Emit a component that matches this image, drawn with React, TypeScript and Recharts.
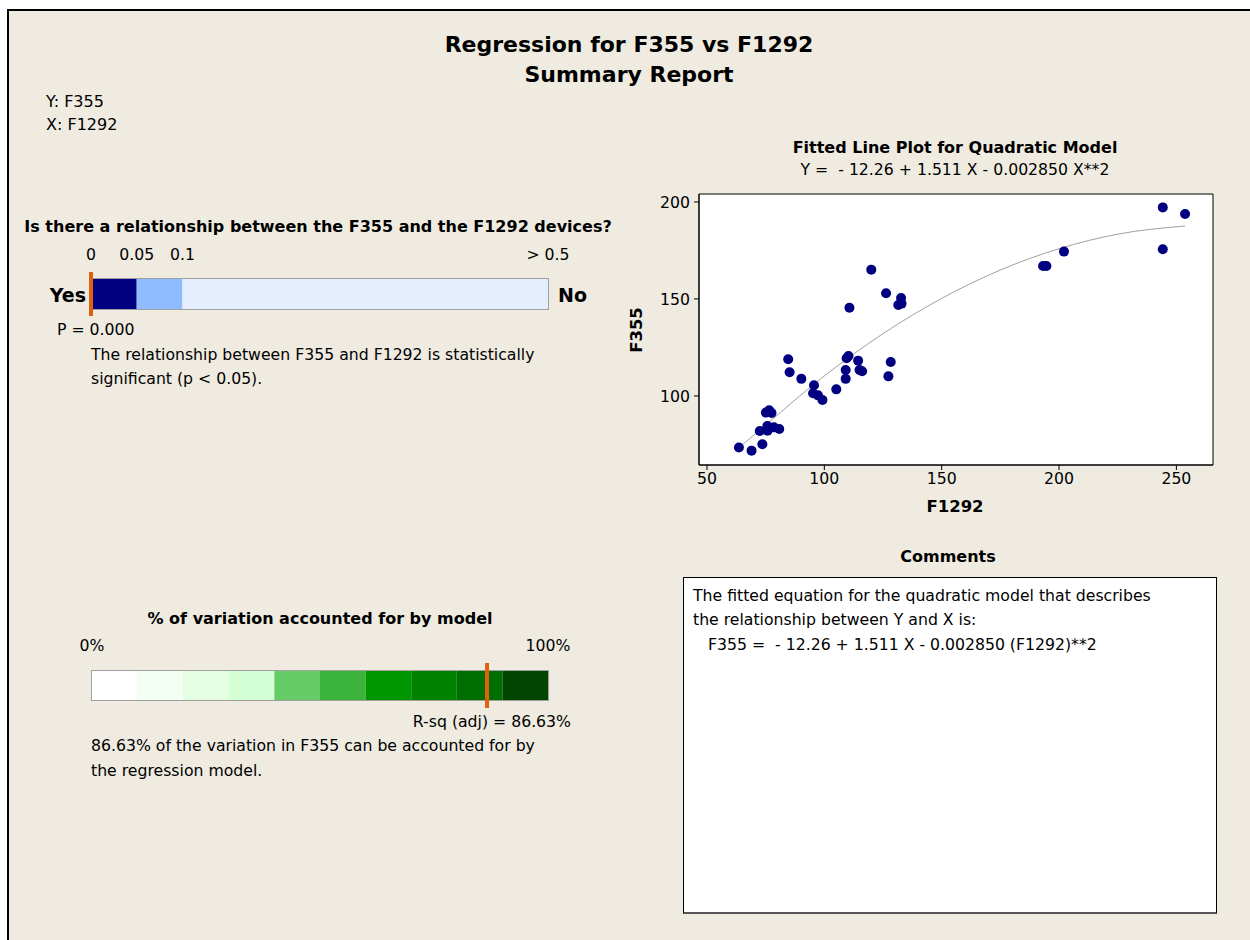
import React from 'react';
import {
  ComposedChart, Scatter, Line, XAxis, YAxis, ReferenceArea, ReferenceLine, BarChart, Bar,
} from 'recharts';

const F1292 = [
  63.6, 69.0, 73.6, 72.5, 75.7, 75.8, 78.5, 80.8, 75.1, 76.5, 77.5, 84.6, 85.2, 90.2, 95.6, 95.2, 97.3, 99.2, 105.1, 109.1,
  109.1, 109.5, 110.3, 110.7, 114.4, 115.0, 116.1, 120.0, 126.3, 127.3, 128.3, 132.7, 131.5, 132.9, 193.2, 194.6, 202.1, 244.2, 244.2, 253.7,
];
const F355 = [
  73.4, 71.8, 75.1, 81.9, 84.5, 82.1, 83.8, 83.0, 91.4, 92.6, 91.2, 118.9, 112.2, 108.8, 105.5, 101.4, 100.3, 97.9, 103.4, 108.8,
  113.4, 119.4, 120.6, 145.5, 118.2, 113.4, 112.7, 165.1, 152.9, 110.1, 117.5, 150.5, 146.9, 147.6, 167.0, 167.0, 174.4, 197.2, 175.6, 193.8,
];

// fitted quadratic line
const FIT_X = [63.6, 75, 100, 125, 150, 175, 200, 225, 253.7];
const FIT_Y = [73.3, 85.0, 110.3, 132.1, 150.3, 164.9, 175.9, 183.4, 187.6];

const X_TICKS = [50, 100, 150, 200, 250];
const Y_TICKS = [100, 150, 200];

// p-value bar: 0-0.05, 0.05-0.1, 0.1-0.5 (nonlinear units)
const P_SEGMENTS = [1, 1, 8];
const P_COLORS = ['#000080', '#8ebcff', '#e4eeff'];
const P_TICK_POS = [0, 1, 2, 10];
const P_TICK_LABELS = ['0', '0.05', '0.1', '> 0.5'];
const P_VALUE_POS = 0;

// R-sq bar: ten 10% bands
const R_SEGMENTS = [10, 10, 10, 10, 10, 10, 10, 10, 10, 10];
const R_COLORS = ['#ffffff', '#f4fff4', '#e4ffe4', '#d4ffd4', '#66cc66', '#3cb43c', '#009600', '#008200', '#006e00', '#004600'];
const R_TICKS = [0, 100];
const R_TICK_LABELS = ['0%', '100%'];
const RSQ_ADJ = 86.63;

const FONT = '"DejaVu Sans", Verdana, sans-serif';
const ORANGE = '#e0600c';
const BODY = 15.7;
const HEAD = 16;

const points = F1292.map((x, i) => ({ x, y: F355[i] }));
const fit = FIT_X.map((x, i) => ({ x, y: FIT_Y[i] }));
const pRow = [Object.fromEntries(P_SEGMENTS.map((v, i) => [`s${i}`, v]).concat([['name', 'p']]))];
const rRow = [Object.fromEntries(R_SEGMENTS.map((v, i) => [`s${i}`, v]).concat([['name', 'r']]))];

function T({ x, y, children, size = BODY, bold = false, anchor = 'start' }: any) {
  const shift = anchor === 'middle' ? '-50%' : anchor === 'end' ? '-100%' : '0';
  return (
    <div
      style={{
        position: 'absolute', left: x, top: y - 12, height: 24, lineHeight: '24px',
        transform: `translateX(${shift})`, whiteSpace: 'pre', fontSize: size,
        fontWeight: bold ? 'bold' : 'normal', color: '#000', fontFamily: FONT,
      }}
    >
      {children}
    </div>
  );
}

const tickStyle = { fill: '#000', fontSize: BODY, fontFamily: FONT };

export default function App() {
  return (
    <div style={{ position: 'absolute', left: 0, top: 0, width: 1250, height: 940, background: '#fff', overflow: 'hidden', fontFamily: FONT }}>
      <div style={{ position: 'absolute', left: 7, top: 9, width: 1260, height: 950, background: '#efebe0', borderTop: '2px solid #000', borderLeft: '2px solid #000' }} />

      <T x={629} y={45} size={22} bold anchor="middle">Regression for F355 vs F1292</T>
      <T x={629} y={75} size={22} bold anchor="middle">Summary Report</T>
      <T x={46} y={102} size={16}>Y: F355</T>
      <T x={46} y={125} size={16}>X: F1292</T>

      {/* p-value section */}
      <T x={318} y={227} size={HEAD} bold anchor="middle">Is there a relationship between the F355 and the F1292 devices?</T>
      <div style={{ position: 'absolute', left: 90, top: 278, width: 459, height: 32, boxSizing: 'border-box', border: '1px solid #a0a0a0' }} />
      <div style={{ position: 'absolute', left: 51, top: 244 }}>
        <BarChart width={537} height={72} data={pRow} layout="vertical" margin={{ top: 0, right: 40, bottom: 0, left: 40 }}>
          <XAxis
            type="number" orientation="top" domain={[0, 10]} ticks={P_TICK_POS} height={28}
            axisLine={false} tickLine={false} tickMargin={6} interval={0}
            tickFormatter={(v) => P_TICK_LABELS[P_TICK_POS.indexOf(v)]} tick={tickStyle}
          />
          <YAxis type="category" dataKey="name" hide />
          {P_SEGMENTS.map((_, i) => (
            <Bar key={i} dataKey={`s${i}`} stackId="p" fill={P_COLORS[i]} barSize={30} isAnimationActive={false} />
          ))}
          <ReferenceLine x={P_VALUE_POS} stroke={ORANGE} strokeWidth={4} />
        </BarChart>
      </div>
      <T x={86} y={295} size={19} bold anchor="end">Yes</T>
      <T x={558} y={295} size={19} bold>No</T>
      <T x={57} y={330}>P = 0.000</T>
      <T x={91} y={355}>The relationship between F355 and F1292 is statistically</T>
      <T x={91} y={379}>significant (p &lt; 0.05).</T>

      {/* R-sq section */}
      <T x={320} y={619} size={HEAD} bold anchor="middle">% of variation accounted for by model</T>
      <div style={{ position: 'absolute', left: 91, top: 670, width: 458, height: 31, boxSizing: 'border-box', border: '1px solid #a0a0a0' }} />
      <div style={{ position: 'absolute', left: 52, top: 635 }}>
        <BarChart width={536} height={73} data={rRow} layout="vertical" margin={{ top: 0, right: 40, bottom: 0, left: 40 }}>
          <XAxis
            type="number" orientation="top" domain={[0, 100]} ticks={R_TICKS} height={28}
            axisLine={false} tickLine={false} tickMargin={6} interval={0}
            tickFormatter={(v) => R_TICK_LABELS[R_TICKS.indexOf(v)]} tick={tickStyle}
          />
          <YAxis type="category" dataKey="name" hide />
          {R_SEGMENTS.map((_, i) => (
            <Bar key={i} dataKey={`s${i}`} stackId="r" fill={R_COLORS[i]} barSize={29} isAnimationActive={false} />
          ))}
          <ReferenceLine x={RSQ_ADJ} stroke={ORANGE} strokeWidth={4} />
        </BarChart>
      </div>
      <T x={571} y={722} anchor="end">R-sq (adj) = 86.63%</T>
      <T x={91} y={746}>86.63% of the variation in F355 can be accounted for by</T>
      <T x={91} y={771}>the regression model.</T>

      {/* fitted line plot */}
      <T x={955} y={148} size={HEAD} bold anchor="middle">Fitted Line Plot for Quadratic Model</T>
      <T x={955} y={170} anchor="middle">Y =  - 12.26 + 1.511 X - 0.002850 X**2</T>
      <div style={{ position: 'absolute', left: 600, top: 180 }}>
        <ComposedChart width={633} height={345} margin={{ top: 14, right: 20, bottom: 0, left: 0 }}>
          <ReferenceArea x1={46.6} x2={265.6} y1={64.4} y2={204.1} fill="#fff" fillOpacity={1} stroke="#000" strokeWidth={1} />
          <XAxis
            type="number" dataKey="x" domain={[46.6, 265.6]} ticks={X_TICKS} allowDataOverflow
            height={60} tickSize={5} tickMargin={3} stroke="#000" tick={tickStyle} interval={0}
          />
          <YAxis
            type="number" dataKey="y" domain={[64.4, 204.1]} ticks={Y_TICKS} allowDataOverflow
            width={99} tickSize={5} tickMargin={4} stroke="#000" tick={tickStyle} interval={0}
          />
          <Line data={fit} dataKey="y" type="monotone" stroke="#a0a0a0" strokeWidth={1} dot={false} isAnimationActive={false} />
          <Scatter
            data={points} dataKey="y" fill="#000080" isAnimationActive={false}
            shape={(p: any) => <circle cx={p.cx} cy={p.cy} r={5} fill="#000080" />}
          />
        </ComposedChart>
      </div>
      <T x={955} y={507} size={16.5} bold anchor="middle">F1292</T>
      <div style={{ position: 'absolute', left: 636, top: 330, transform: 'translate(-50%, -50%) rotate(-90deg)', fontSize: 16.5, fontWeight: 'bold', fontFamily: FONT, whiteSpace: 'pre' }}>F355</div>

      {/* comments */}
      <T x={948} y={557} size={HEAD} bold anchor="middle">Comments</T>
      <div style={{ position: 'absolute', left: 683, top: 577, width: 534, height: 337, boxSizing: 'border-box', background: '#fff', border: '1px solid #000', borderBottom: '2px solid #555' }} />
      <T x={693} y={596}>The fitted equation for the quadratic model that describes</T>
      <T x={693} y={620}>the relationship between Y and X is:</T>
      <T x={708} y={645}>F355 =  - 12.26 + 1.511 X - 0.002850 (F1292)**2</T>
    </div>
  );
}
